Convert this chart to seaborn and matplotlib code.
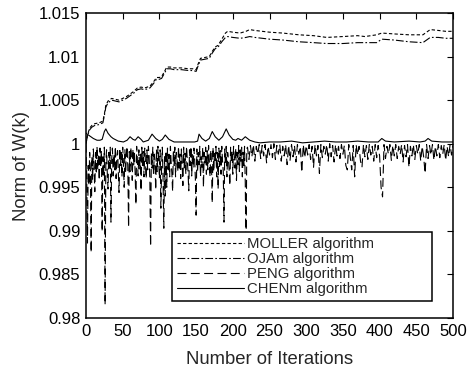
import matplotlib
matplotlib.use('Agg')
from matplotlib import pyplot as plt
from matplotlib.ticker import MultipleLocator, FuncFormatter
import seaborn as sns
import numpy as np
import pandas as pd

sns.set_style('white')
plt.rcParams['font.family'] = ['Liberation Sans', 'DejaVu Sans']

# MOLLER / OJAm
iter_mo = [0, 2, 5, 8, 12, 18, 23, 25, 27, 30, 35, 40, 45, 50, 55, 60, 65, 70, 75, 80,
           87, 92, 96, 100, 103, 107, 110, 115, 120, 130, 140, 146, 150, 153, 156, 162,
           168, 172, 176, 180, 185, 190, 193, 200, 210, 218, 223, 230, 240, 250, 268,
           290, 310, 328, 350, 370, 380, 396, 403, 420, 440, 459, 464, 469, 480, 490, 500]
moller = [1.0000, 1.0010, 1.0018, 1.0021, 1.0023, 1.0024, 1.0026, 1.0034, 1.0044, 1.0049,
          1.0052, 1.0051, 1.0050, 1.0052, 1.0054, 1.0057, 1.0060, 1.0064, 1.0065, 1.0064,
          1.0066, 1.0071, 1.0076, 1.0076, 1.0077, 1.0083, 1.0088, 1.0088, 1.0087, 1.0087,
          1.0086, 1.0086, 1.0085, 1.0092, 1.0098, 1.0099, 1.0100, 1.0106, 1.0111, 1.0113,
          1.0120, 1.0127, 1.0129, 1.0128, 1.0127, 1.0129, 1.0131, 1.0130, 1.0129, 1.0128,
          1.0127, 1.0125, 1.0124, 1.0122, 1.0123, 1.0124, 1.0123, 1.0125, 1.0127, 1.0126,
          1.0125, 1.0125, 1.0128, 1.0131, 1.0130, 1.0129, 1.0129]
ojam = [1.0000, 1.0009, 1.0016, 1.0019, 1.0021, 1.0022, 1.0024, 1.0032, 1.0042, 1.0047,
        1.0050, 1.0049, 1.0048, 1.0050, 1.0052, 1.0055, 1.0058, 1.0062, 1.0063, 1.0062,
        1.0064, 1.0069, 1.0074, 1.0074, 1.0075, 1.0081, 1.0086, 1.0086, 1.0085, 1.0085,
        1.0084, 1.0084, 1.0083, 1.0090, 1.0096, 1.0097, 1.0098, 1.0104, 1.0109, 1.0111,
        1.0117, 1.0122, 1.0123, 1.0122, 1.0121, 1.0122, 1.0123, 1.0122, 1.0121, 1.0120,
        1.0119, 1.0117, 1.0116, 1.0115, 1.0115, 1.0116, 1.0116, 1.0116, 1.0120, 1.0119,
        1.0117, 1.0116, 1.0119, 1.0122, 1.0122, 1.0121, 1.0121]

# CHENm
iter_ch = [0, 5, 10, 15, 19, 22, 25, 27, 30, 34, 37, 44, 51, 56, 60, 64, 67, 71, 75, 78,
           85, 90, 95, 100, 104, 108, 113, 120, 130, 140, 148, 152, 154, 158, 163, 168,
           172, 176, 181, 186, 191, 195, 200, 204, 207, 212, 217, 223, 230, 237, 250, 265,
           280, 295, 310, 325, 340, 355, 370, 385, 398, 403, 408, 420, 440, 455, 462, 466,
           471, 485, 500]
chenm = [1.0012, 1.0009, 1.0006, 1.0004, 1.0004, 1.0005, 1.0014, 1.0017, 1.0012, 1.0008,
         1.0006, 1.0003, 1.0002, 1.0004, 1.0008, 1.0005, 1.0004, 1.0008, 1.0005, 1.0002,
         1.0004, 1.0011, 1.0006, 1.0003, 1.0005, 1.0010, 1.0005, 1.0002, 1.0002, 1.0002,
         1.0002, 1.0003, 1.0011, 1.0006, 1.0003, 1.0006, 1.0014, 1.0008, 1.0004, 1.0008,
         1.0017, 1.0010, 1.0005, 1.0004, 1.0006, 1.0004, 1.0008, 1.0004, 1.0002, 1.0001,
         1.0002, 1.0002, 1.0003, 1.0001, 1.0002, 1.0003, 1.0002, 1.0002, 1.0003, 1.0002,
         1.0002, 1.0006, 1.0003, 1.0002, 1.0003, 1.0002, 1.0003, 1.0006, 1.0003, 1.0002,
         1.0002]

# PENG: every iteration up to 220, every 2nd one after
iter_pe = list(range(0, 221)) + list(range(222, 501, 2))
peng = [1.0000, 0.9960, 0.9886, 0.9975, 0.9952, 0.9990, 0.9968, 0.9875, 0.9985, 0.9958,
        0.9994, 0.9972, 0.9945, 0.9990, 0.9965, 0.9997, 0.9970, 0.9988, 0.9958, 0.9995,
        0.9975, 0.9992, 0.9899, 0.9985, 0.9962, 0.9996, 0.9815, 0.9978, 0.9993, 0.9966,
        0.9948, 0.9990, 0.9972, 0.9996, 0.9910, 0.9982, 0.9995, 0.9963, 0.9988, 0.9970,
        0.9997, 0.9960, 0.9985, 0.9992, 0.9968, 0.9944, 0.9995, 0.9975, 0.9990, 0.9962,
        0.9996, 0.9978, 0.9950, 0.9993, 0.9966, 0.9989, 0.9997, 0.9972, 0.9904, 0.9991,
        0.9968, 0.9996, 0.9982, 0.9958, 0.9994, 0.9975, 0.9990, 0.9965, 0.9930, 0.9997,
        0.9980, 0.9963, 0.9993, 0.9970, 0.9988, 0.9946, 0.9996, 0.9975, 0.9991, 0.9962,
        0.9995, 0.9979, 0.9960, 0.9993, 0.9970, 0.9997, 0.9985, 0.9958, 0.9882, 0.9990,
        0.9972, 0.9996, 0.9965, 0.9988, 0.9978, 0.9947, 0.9994, 0.9968, 0.9997, 0.9982,
        0.9960, 0.9993, 0.9926, 0.9975, 0.9996, 0.9958, 0.9903, 0.9985, 0.9940, 0.9992,
        0.9950, 0.9995, 0.9970, 0.9988, 0.9962, 0.9997, 0.9978, 0.9966, 0.9945, 0.9993,
        0.9975, 0.9996, 0.9962, 0.9990, 0.9981, 0.9968, 0.9997, 0.9972, 0.9988, 0.9960,
        0.9994, 0.9978, 0.9952, 0.9996, 0.9970, 0.9989, 0.9965, 0.9997, 0.9980, 0.9968,
        0.9946, 0.9993, 0.9975, 0.9997, 0.9963, 0.9988, 0.9972, 0.9995, 0.9982, 0.9960,
        0.9918, 0.9994, 0.9968, 0.9990, 0.9976, 0.9997, 0.9962, 0.9985, 0.9973, 0.9996,
        0.9950, 0.9990, 0.9978, 0.9996, 0.9965, 0.9992, 0.9970, 0.9998, 0.9980, 0.9962,
        0.9993, 0.9975, 0.9932, 0.9996, 0.9968, 0.9989, 0.9978, 0.9997, 0.9962, 0.9990,
        0.9948, 0.9995, 0.9974, 0.9992, 0.9965, 0.9997, 0.9980, 0.9968, 0.9910, 0.9994,
        0.9976, 0.9997, 0.9962, 0.9990, 0.9982, 0.9970, 0.9952, 0.9996, 0.9978, 0.9992,
        0.9965, 0.9997, 0.9984, 0.9972, 0.9995, 0.9958, 0.9990, 0.9976, 0.9998, 0.9968,
        0.9993, 0.9980, 0.9996, 0.9962, 0.9990, 0.9975, 0.9997, 0.9955, 0.9870, 0.9994,
        0.9996,
        0.9982, 0.9998, 0.9985, 0.9999, 0.9980, 0.9997, 0.9988, 0.9999, 0.9983,
        0.9998, 0.9986, 0.9999, 0.9978, 0.9997, 0.9987, 0.9999, 0.9984, 1.0000, 0.9982,
        0.9998, 0.9988, 0.9999, 0.9980, 0.9997, 0.9986, 0.9999, 0.9976, 0.9998, 0.9981,
        0.9999, 0.9985, 0.9998, 0.9979, 0.9999, 0.9988, 0.9997, 0.9967, 0.9999, 0.9984,
        0.9998, 0.9987, 0.9999, 0.9982, 0.9997, 0.9973, 0.9999, 0.9986, 0.9998, 0.9966,
        0.9999, 0.9984, 0.9997, 0.9988, 0.9999, 0.9980, 1.0000, 0.9985, 0.9998, 0.9979,
        0.9999, 0.9986, 0.9997, 0.9983, 0.9999, 0.9988, 0.9998, 0.9975, 0.9970, 0.9999,
        0.9984, 0.9970, 0.9998, 0.9962, 0.9999, 0.9987, 0.9997, 0.9980, 0.9973, 0.9999,
        0.9985, 0.9998, 0.9982, 0.9999, 0.9987, 0.9997, 0.9980, 0.9999, 0.9984, 0.9998,
        0.9986, 0.9950, 0.9939, 0.9999, 0.9983, 0.9997, 0.9988, 0.9999, 0.9981, 0.9998,
        0.9986, 0.9999, 0.9983, 0.9997, 0.9988, 0.9999, 0.9979, 0.9998, 0.9985, 0.9999,
        0.9973, 0.9997, 0.9986, 0.9999, 0.9982, 0.9998, 0.9988, 0.9999, 0.9980, 0.9997,
        0.9985, 0.9966, 0.9999, 0.9983, 0.9998, 0.9987, 0.9999, 0.9981, 0.9997, 0.9986,
        0.9999, 0.9984, 0.9998, 0.9988, 0.9999, 0.9981, 0.9997, 0.9985, 0.9999, 0.9987,
        0.9998]

fig = plt.figure(figsize=(4.71, 3.72), dpi=100)
ax = fig.add_axes([0.1826, 0.1452, 0.7792, 0.8198])

lw = 0.8
sns.lineplot(x=iter_mo, y=moller, color='black', lw=lw, linestyle=(0, (3, 2)),
             estimator=None, label='MOLLER algorithm', ax=ax)
sns.lineplot(x=iter_mo, y=ojam, color='black', lw=lw, linestyle=(0, (7, 2, 1.5, 2)),
             estimator=None, label='OJAm algorithm', ax=ax)
sns.lineplot(x=iter_pe, y=peng, color='black', lw=lw, linestyle=(0, (8, 4)),
             estimator=None, label='PENG algorithm', ax=ax)
sns.lineplot(x=iter_ch, y=chenm, color='black', lw=lw, linestyle='-',
             estimator=None, label='CHENm algorithm', ax=ax)

ax.set_xlim(0, 500)
ax.set_ylim(0.98, 1.015)
ax.xaxis.set_major_locator(MultipleLocator(50))
ax.yaxis.set_major_locator(MultipleLocator(0.005))
ax.yaxis.set_major_formatter(FuncFormatter(lambda v, p: '%g' % round(v, 4)))
ax.tick_params(axis='both', which='major', direction='in', length=4, width=0.8,
               top=True, right=True, labelsize=12, colors='black', pad=4)
for s in ax.spines.values():
    s.set_visible(True)
    s.set_color('black')
    s.set_linewidth(1.1)

ax.set_xlabel('Number of Iterations', fontsize=13.3, labelpad=9)
ax.set_ylabel('Norm of W(k)', fontsize=13.3, labelpad=6)

leg = ax.legend(loc='lower left', bbox_to_anchor=(0.234, 0.056, 0.709, 0.223),
                mode='expand', fontsize=10.7,
                handlelength=4.5, handletextpad=0.2, labelspacing=0.05,
                borderpad=0.35, borderaxespad=0, fancybox=False, framealpha=1)
leg.get_frame().set_edgecolor('black')
leg.get_frame().set_linewidth(1.1)

plt.savefig('out.png', dpi=100)
